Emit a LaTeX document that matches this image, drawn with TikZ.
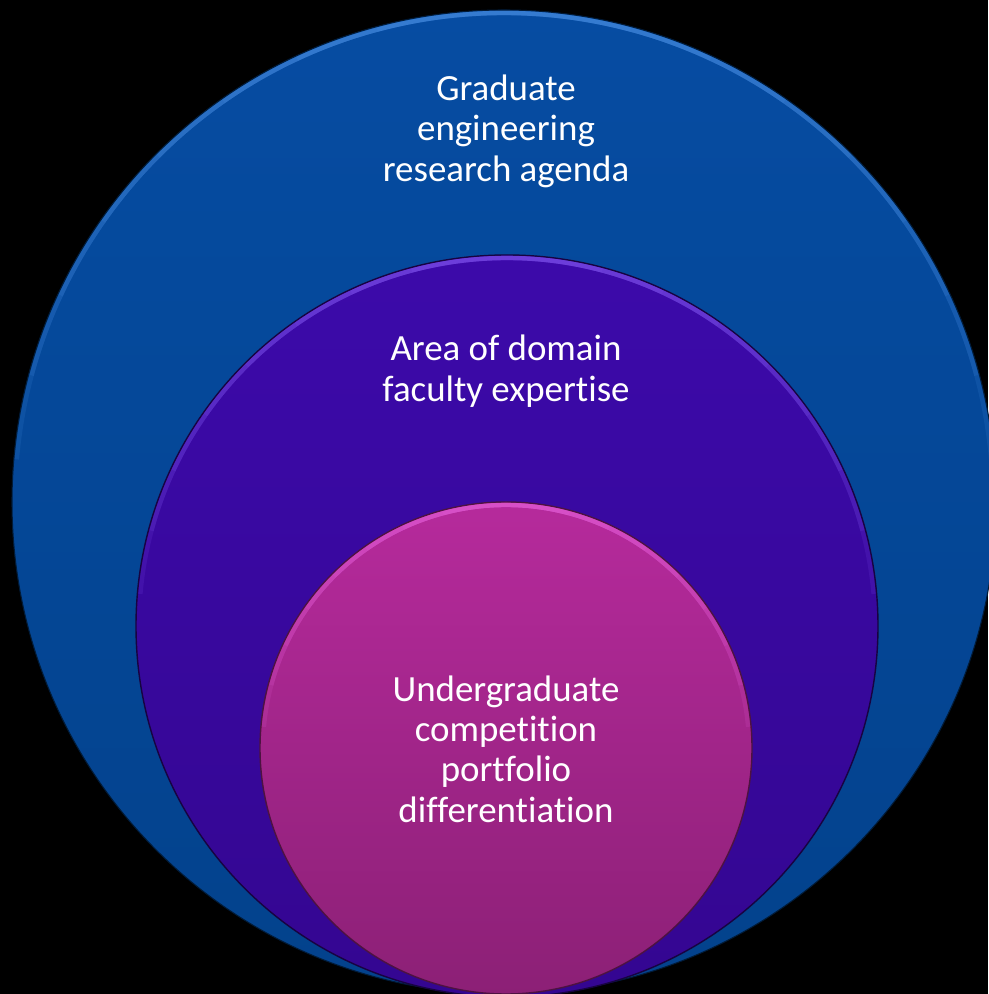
\documentclass[tikz,border=0pt]{standalone}
\usepackage{fontspec}
\setsansfont[Ligatures={NoCommon,NoRequired}]{Carlito}

\definecolor{gradtop}{RGB}{6,76,162}
\definecolor{gradbot}{RGB}{3,66,140}
\definecolor{gradrim}{RGB}{80,150,235}
\definecolor{areatop}{RGB}{60,10,170}
\definecolor{areabot}{RGB}{52,6,145}
\definecolor{arearim}{RGB}{135,90,245}
\definecolor{undertop}{RGB}{182,42,156}
\definecolor{underbot}{RGB}{140,32,118}
\definecolor{underrim}{RGB}{235,100,225}

\begin{document}
\begin{tikzpicture}[x=0.02cm, y=0.02cm,
    caption/.style={text=white, font=\sffamily\fontsize{21}{23}\selectfont, align=center}]
  \fill[black] (0,0) rectangle (988,994);
  \useasboundingbox (0,0) rectangle (988,994);

  \coordinate (grad) at (504,492);
  \coordinate (area) at (507,368);
  \coordinate (under) at (506,246);

  % outer disc
  \shade[top color=gradtop, bottom color=gradbot] (grad) circle (492);
  \draw[black!60!gradbot, line width=0.6pt] (grad) circle (492);
  \foreach \a in {5,15,...,75}
    \draw[gradrim, opacity=.13, line width=2.5pt] ([shift={(\a:489)}]grad) arc (\a:180-\a:489);

  % middle disc
  \shade[top color=areatop, bottom color=areabot] (area) circle (371);
  \draw[black!55!areabot, line width=0.8pt] (area) circle (371);
  \foreach \a in {5,15,...,75}
    \draw[arearim, opacity=.13, line width=2.5pt] ([shift={(\a:368)}]area) arc (\a:180-\a:368);

  % inner disc
  \shade[top color=undertop, bottom color=underbot] (under) circle (246);
  \draw[black!45!underbot, line width=0.8pt] (under) circle (246);
  \foreach \a in {5,15,...,75}
    \draw[underrim, opacity=.13, line width=2.5pt] ([shift={(\a:243)}]under) arc (\a:180-\a:243);

  \node[caption] (gradtxt) at (506,863) {Graduate\\engineering\\research agenda};
  \node[caption] (areatxt) at (506,623) {Area of domain\\faculty expertise};
  \node[caption] (undertxt) at (506,245) {Undergraduate\\competition\\portfolio\\differentiation};
\end{tikzpicture}
\end{document}
